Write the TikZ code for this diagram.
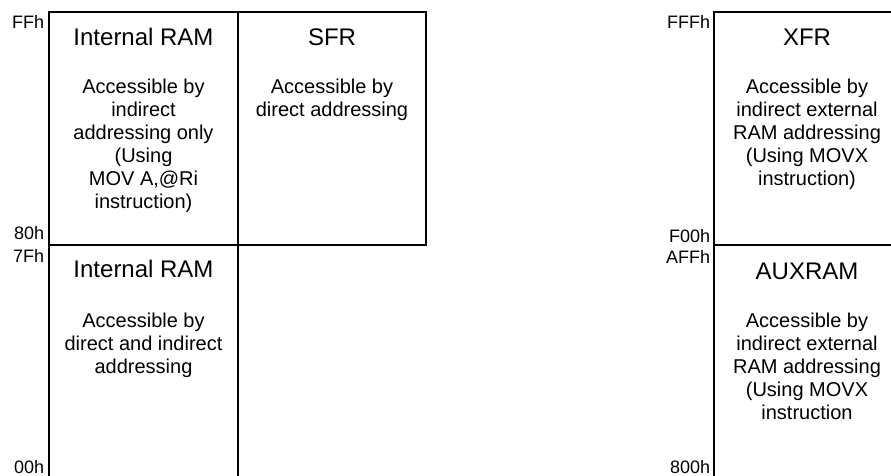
\documentclass[tikz,border=0pt]{standalone}
\usepackage{fontspec}
\setmainfont{Liberation Sans}
\usepackage{tikz}

\begin{document}
\begin{tikzpicture}[x=1pt,y=-1pt,line width=1.6pt,
  titel/.style={anchor=base,inner sep=0pt,font=\fontsize{24}{28}\selectfont},
  beschr/.style={anchor=north,inner sep=0pt,align=center,font=\fontsize{20}{23}\selectfont},
  adr/.style={anchor=base east,inner sep=0pt,font=\fontsize{18}{20}\selectfont}]
  \useasboundingbox (0,0) rectangle (891,475);
  % Bereiche
  \draw (49,480) -- (49,12) -- (426,12) -- (426,245) -- (49,245);
  \draw (238,12) -- (238,480);
  \draw (714,480) -- (714,12) -- (895,12);
  \draw (714,245) -- (895,245);
  % Adressen
  \foreach \y/\t in {28/FFh,239/80h,262/7Fh,473/00h} {
    \node[adr] (adr\t) at (45,\y) {\t};
  }
  \foreach \y/\t in {28/FFFh,242/F00h,263/AFFh,473/800h} {
    \node[adr] (adr\t) at (711,\y) {\t};
  }
  % Titel
  \node[titel] (iramoben) at (143.5,45) {Internal RAM};
  \node[titel] (sfr) at (332,45) {SFR};
  \node[titel] (iramunten) at (143.5,277) {Internal RAM};
  \node[titel] (xfr) at (807,45) {XFR};
  \node[titel] (auxram) at (807,279) {AUXRAM};
  % Beschreibungen
  \node[beschr] (iramobentxt) at (143.5,78.5)
    {Accessible by\\indirect\\addressing only\\(Using\\MOV A,@Ri\\instruction)};
  \node[beschr] (sfrtxt) at (332,78.5) {Accessible by\\direct addressing};
  \node[beschr] (iramuntentxt) at (143.5,312.5)
    {Accessible by\\direct and indirect\\addressing};
  \node[beschr] (xfrtxt) at (807,78.5)
    {Accessible by\\indirect external\\RAM addressing\\(Using MOVX\\instruction)};
  \node[beschr] (auxramtxt) at (807,312.5)
    {Accessible by\\indirect external\\RAM addressing\\(Using MOVX\\instruction};
\end{tikzpicture}
\end{document}
